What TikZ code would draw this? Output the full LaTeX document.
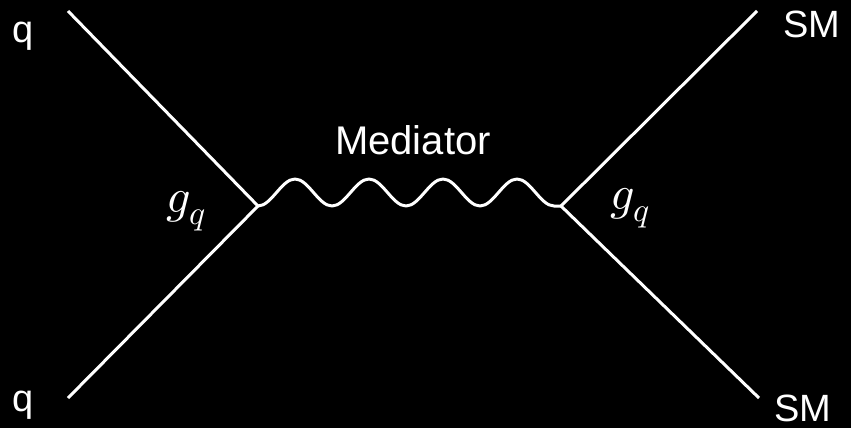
\documentclass[tikz,border=0pt]{standalone}
\usepackage{unicode-math}
\setmainfont{Liberation Sans}
\setmathfont{Latin Modern Math}
\usetikzlibrary{decorations.pathmorphing}
\begin{document}
\begin{tikzpicture}[x=1pt,y=-1pt,
  line/.style={draw=white,line width=3pt},
  lbl/.style={text=white,inner sep=0pt,font=\fontsize{38}{40}\selectfont},
  cpl/.style={text=white,inner sep=0pt,font=\fontsize{48}{50}\selectfont}]
\fill[black] (0,0) rectangle (851,428);
\useasboundingbox (0,0) rectangle (851,428);
\coordinate (v1) at (258,206);
\coordinate (v2) at (561,206);
\coordinate (e1) at (68,11);
\coordinate (e2) at (68,398);
\coordinate (e3) at (757,11);
\coordinate (e4) at (759,398);
\draw[line] (e1) -- (v1) -- (e2);
\draw[line] (e3) -- (v2) -- (e4);
\draw[line,line join=round] (v1) -- ++(0,0)
  \foreach \k in {0,1,2,3} {
    cos ++(18.5,-13.5) sin ++(18.5,-13.5) cos ++(18.5,13.5) sin ++(18.5,13.5)
  } -- (v2);
\node[lbl] (q1) at (23,36) {q};
\node[lbl] (q2) at (23,405) {q};
\node[lbl] (sm1) at (812,24) {SM};
\node[lbl] (sm2) at (803,408) {SM};
\node[lbl,font=\fontsize{40}{42}\selectfont] (med) at (413,140) {Mediator};
\node[cpl] (g1) at (186,211) {$g_q$};
\node[cpl] (g2) at (630,208) {$g_q$};
\end{tikzpicture}
\end{document}
